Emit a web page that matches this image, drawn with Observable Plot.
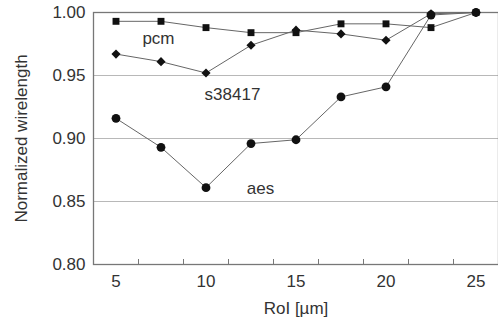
<!DOCTYPE html>
<html>
<head>
<meta charset="utf-8">
<script src="https://cdn.jsdelivr.net/npm/d3@7"></script>
<script src="https://cdn.jsdelivr.net/npm/@observablehq/plot@0.6"></script>
<style>
  html, body { margin: 0; padding: 0; background: #fff; }
  #chart svg { display: block; }
</style>
</head>
<body>
<div id="chart"></div>
<script>
const roi = [5, 7.5, 10, 12.5, 15, 17.5, 20, 22.5, 25];
const pcm = [0.993, 0.993, 0.988, 0.984, 0.984, 0.991, 0.991, 0.988, 1.000];
const s38417 = [0.967, 0.961, 0.952, 0.974, 0.986, 0.983, 0.978, 0.999, 1.000];
const aes = [0.916, 0.893, 0.861, 0.896, 0.899, 0.933, 0.941, 0.998, 1.000];
const xTickLabels = [5, 10, 15, 20, 25];
const xMinorTicks = [6.25, 8.75, 11.25, 13.75, 16.25, 18.75, 21.25, 23.75];
const yTicks = [0.80, 0.85, 0.90, 0.95, 1.00];
const seriesNames = ["pcm", "s38417", "aes"];
const seriesLabelX = [7.36, 11.47, 13.03];
const seriesLabelY = [0.979, 0.935, 0.860];

const toRows = (name, vals) => vals.map((v, i) => ({series: name, x: roi[i], y: v}));
const pcmRows = toRows("pcm", pcm);
const sRows = toRows("s38417", s38417);
const aesRows = toRows("aes", aes);
const labels = seriesNames.map((n, i) => ({text: n, x: seriesLabelX[i], y: seriesLabelY[i]}));

const font = "Liberation Sans, Arial, Helvetica, sans-serif";
const textColor = "#333";

const chart = Plot.plot({
  width: 498,
  height: 321,
  marginLeft: 93,
  marginRight: 0,
  marginTop: 12,
  marginBottom: 57,
  style: {fontFamily: font, fontSize: "17px", color: textColor, background: "#fff"},
  x: {domain: [3.75, 26.25]},
  y: {domain: [0.80, 1.00]},
  marks: [
    Plot.gridY([0.85, 0.90, 0.95], {stroke: "#b8b8b8", strokeOpacity: 1, strokeWidth: 1.2}),
    Plot.frame({stroke: "#777", strokeWidth: 1.3}),
    Plot.axisY({ticks: yTicks, tickFormat: d3.format(".2f"), tickSize: 0, tickPadding: 8, fontSize: 17, label: null, fill: textColor}),
    Plot.axisX({ticks: xTickLabels, tickFormat: d => String(d), tickSize: 0, tickPadding: 10, fontSize: 17, label: null, fill: textColor}),
    Plot.axisX({ticks: xMinorTicks, tickSize: -5, text: null, label: null, stroke: "#777"}),
    Plot.text(["Normalized wirelength"], {frameAnchor: "left", dx: -72, rotate: -90, textAnchor: "middle", lineAnchor: "middle", text: d => d, fontSize: 17, fill: textColor}),
    Plot.text(["RoI [µm]"], {frameAnchor: "bottom", dy: 44, textAnchor: "middle", lineAnchor: "middle", text: d => d, fontSize: 17, fill: textColor}),
    Plot.line(pcmRows, {x: "x", y: "y", stroke: "#666", strokeWidth: 1}),
    Plot.line(sRows, {x: "x", y: "y", stroke: "#666", strokeWidth: 1}),
    Plot.line(aesRows, {x: "x", y: "y", stroke: "#666", strokeWidth: 1}),
    Plot.dot(pcmRows, {x: "x", y: "y", symbol: "square", r: 3.9, fill: "#111", stroke: "none"}),
    Plot.dot(sRows, {x: "x", y: "y", symbol: "diamond2", r: 4.1, fill: "#111", stroke: "none"}),
    Plot.dot(aesRows, {x: "x", y: "y", symbol: "circle", r: 4.4, fill: "#111", stroke: "none"}),
    Plot.text(labels, {x: "x", y: "y", text: "text", fontSize: 17, fill: textColor})
  ]
});
document.getElementById("chart").appendChild(chart);
</script>
</body>
</html>
